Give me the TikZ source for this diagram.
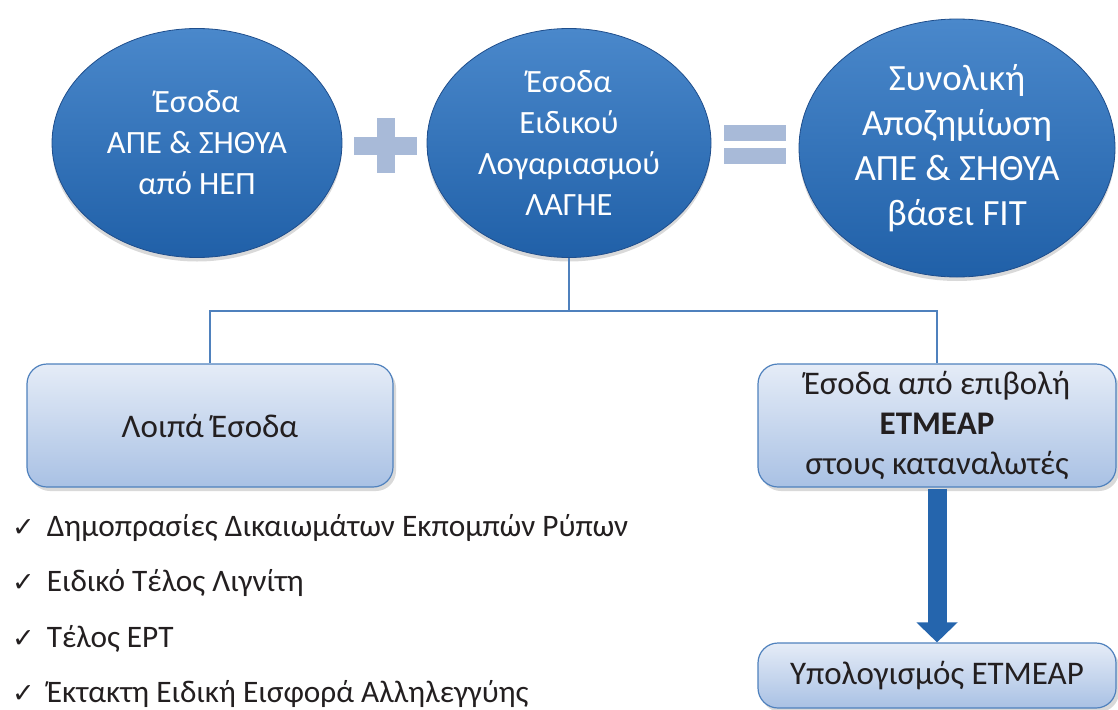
\documentclass[tikz,border=0pt]{standalone}
\usepackage{fontspec}
\setmainfont{Carlito}
\newfontfamily\tickfont{DejaVu Sans}
\usetikzlibrary{positioning,arrows.meta,shapes.geometric,shadows}

\definecolor{ovaltop}{HTML}{4A88CB}
\definecolor{ovalbot}{HTML}{2060A8}
\definecolor{ovalrim}{HTML}{1F4E8C}
\definecolor{paneltop}{HTML}{E5ECF7}
\definecolor{panelbot}{HTML}{A9C1E4}
\definecolor{panelrim}{HTML}{4F81BD}
\definecolor{signgrey}{HTML}{A8BAD8}
\definecolor{flowblue}{HTML}{2565AD}
\definecolor{inkdark}{HTML}{231F20}

\begin{document}
\begin{tikzpicture}[
  x=1pt, y=-1pt,
  oval/.style={ellipse, draw=ovalrim, line width=0.8pt, top color=ovaltop, bottom color=ovalbot, text=white, align=center, inner sep=0pt, drop shadow={opacity=0.3, shadow xshift=0pt, shadow yshift=-4pt}},
  panel/.style={draw=panelrim, line width=1.2pt, rounded corners=20pt, top color=paneltop, bottom color=panelbot, text=inkdark, align=center, inner sep=0pt, font=\fontsize{33}{40}\selectfont, drop shadow={opacity=0.3, shadow xshift=3pt, shadow yshift=-4pt}},
  link/.style={draw=panelrim, line width=1.2pt},
  flow/.style={draw=flowblue, line width=19pt, shorten <=1pt, -{Triangle[length=20pt, width=40pt]}},
  sign/.style={fill=signgrey},
  feeitem/.style={anchor=base west, inner sep=0pt, text=inkdark, font=\fontsize{31.3}{36}\selectfont}
]
  \useasboundingbox (0,0) rectangle (1118,709);

  % top row
  \node[oval, minimum width=290, minimum height=229, font=\fontsize{32.5}{41}\selectfont] (nep) at (197,143) {Έσοδα\\ΑΠΕ \& ΣΗΘΥΑ\\από ΗΕΠ};
  \node[oval, minimum width=284, minimum height=229, font=\fontsize{32.5}{41}\selectfont] (lagie) at (569,143) {Έσοδα\\Ειδικού\\Λογαριασμού\\ΛΑΓΗΕ};
  \node[oval, minimum width=316, minimum height=258, font=\fontsize{37}{45}\selectfont] (fit) at (957,148) {Συνολική\\Αποζημίωση\\ΑΠΕ \& ΣΗΘΥΑ\\βάσει FIT};

  % plus and equals
  \fill[sign] (354,137) rectangle (417,155);
  \fill[sign] (377,118) rectangle (395,173);
  \fill[sign] (724,125) rectangle (786,141);
  \fill[sign] (724,148) rectangle (786,164);

  % second row
  \node[panel, minimum width=366, minimum height=123] (rest) at (210,425.5) {Λοιπά Έσοδα};
  \node[panel, minimum width=358, minimum height=123] (tax) at (937,425.5) {Έσοδα από επιβολή\\\textbf{ΕΤΜΕΑΡ}\\στους καταναλωτές};
  \node[panel, minimum width=358, minimum height=65] (calc) at (937,675.5) {Υπολογισμός ΕΤΜΕΑΡ};

  \draw[link] (lagie.south) -- ++(0,53) -| (rest.north);
  \draw[link] (lagie.south) -- ++(0,53) -| (tax.north);
  \draw[flow] (tax.south) -- (calc.north);

  % list of other income
  \foreach \fee [count=\i] in {Δημοπρασίες Δικαιωμάτων Εκπομπών Ρύπων, Ειδικό Τέλος Λιγνίτη, Τέλος ΕΡΤ, Έκτακτη Ειδική Εισφορά Αλληλεγγύης}
    \node[feeitem] (fee\i) at (12,480.5+55.5*\i) {{\tickfont\fontsize{27}{27}\selectfont ✓}\hspace{12pt}\fee};
\end{tikzpicture}
\end{document}
